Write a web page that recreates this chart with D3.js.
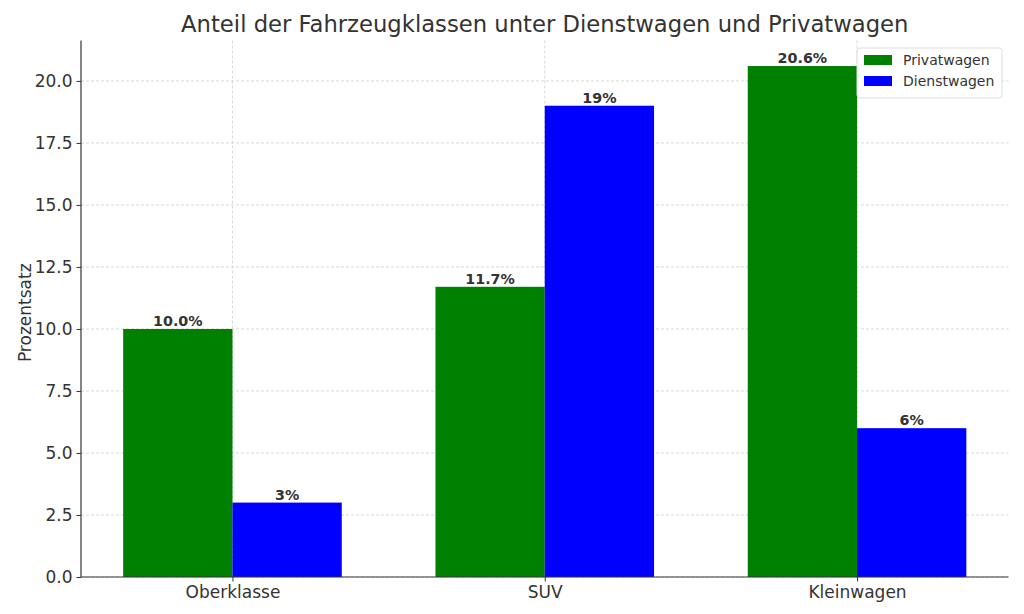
<!DOCTYPE html>
<html><head><meta charset="utf-8">
<script src="https://cdn.jsdelivr.net/npm/d3@7"></script>
<style>body{margin:0;background:#fff;}svg{display:block;font-family:"DejaVu Sans",sans-serif;}</style>
</head><body>
<svg id="c" width="1024" height="614"></svg>
<script>
const categories = ["Oberklasse", "SUV", "Kleinwagen"];
const privatwagen = [10.0, 11.7, 20.6];
const dienstwagen = [3, 19, 6];
const privatLabels = ["10.0%", "11.7%", "20.6%"];
const dienstLabels = ["3%", "19%", "6%"];
const yTicks = [0, 2.5, 5, 7.5, 10, 12.5, 15, 17.5, 20];
const seriesNames = ["Privatwagen", "Dienstwagen"];
const colors = ["#008000", "#0000ff"];

const svg = d3.select("#c");
const L = 81, R = 1008.5, T = 40.5, B = 577;
const bw = 0.35;
const x = d3.scaleLinear().domain([-0.485, 2.485]).range([L, R]);
const y = d3.scaleLinear().domain([0, 21.63]).range([B, T]);
const textCol = "#333";

// grid
const g = svg.append("g");
g.selectAll("line.h").data(yTicks).join("line")
  .attr("x1", L).attr("x2", R).attr("y1", d => y(d)).attr("y2", d => y(d))
  .attr("stroke", "#cfcfcf").attr("stroke-width", 0.8).attr("stroke-dasharray", "3,2");
g.selectAll("line.v").data(categories).join("line")
  .attr("x1", (d,i) => x(i)).attr("x2", (d,i) => x(i)).attr("y1", T).attr("y2", B)
  .attr("stroke", "#cfcfcf").attr("stroke-width", 0.8).attr("stroke-dasharray", "3,2");

const series = [privatwagen, dienstwagen];
const labels = [privatLabels, dienstLabels];
series.forEach((vals, s) => {
  const off = s === 0 ? -bw : 0;
  svg.append("g").selectAll("rect").data(vals).join("rect")
    .attr("x", (d,i) => x(i + off)).attr("width", x(bw) - x(0))
    .attr("y", d => y(d)).attr("height", d => y(0) - y(d))
    .attr("fill", colors[s]);
  svg.append("g").selectAll("text").data(vals).join("text")
    .attr("x", (d,i) => x(i + off + bw/2)).attr("y", d => y(d) - 3)
    .attr("text-anchor", "middle").attr("font-size", 14.3).attr("font-weight", "bold")
    .attr("fill", textCol).text((d,i) => labels[s][i]);
});

// axes
const ya = svg.append("g").attr("transform", `translate(${L},0)`)
  .call(d3.axisLeft(y).tickValues(yTicks).tickFormat(d3.format(".1f")).tickSize(4.5).tickPadding(4));
const xa = svg.append("g").attr("transform", `translate(0,${B})`)
  .call(d3.axisBottom(x).tickValues([0,1,2]).tickFormat(i => categories[i]).tickSize(4.5).tickPadding(4));
[ya, xa].forEach(a => {
  a.select(".domain").attr("stroke", "#333").attr("stroke-width", 1.2);
  a.selectAll(".tick line").attr("stroke", "#333").attr("stroke-width", 1);
  a.selectAll(".tick text").attr("font-size", 17).attr("fill", textCol).attr("font-family", "DejaVu Sans");
});
ya.select(".domain").attr("d", `M0,${B}V${T}`);
xa.select(".domain").attr("d", `M${L},0H${R}`);

svg.append("text").attr("transform", `translate(31,${(T+B)/2 + 4}) rotate(-90)`)
  .attr("text-anchor", "middle").attr("font-size", 17).attr("fill", textCol).text("Prozentsatz");
svg.append("text").attr("x", (L+R)/2).attr("y", 32).attr("text-anchor", "middle")
  .attr("font-size", 22.7).attr("fill", textCol).text("Anteil der Fahrzeugklassen unter Dienstwagen und Privatwagen");

// legend
const lg = svg.append("g").attr("transform", "translate(857,48)");
lg.append("rect").attr("x", 0).attr("y", 0).attr("width", 145).attr("height", 50).attr("rx", 3)
  .attr("fill", "#fff").attr("fill-opacity", 0.8).attr("stroke", "#ddd");
seriesNames.forEach((n, i) => {
  lg.append("rect").attr("x", 7).attr("y", 7 + i*21).attr("width", 28).attr("height", 10).attr("fill", colors[i]);
  lg.append("text").attr("x", 46).attr("y", 17 + i*21).attr("font-size", 14).attr("fill", textCol).text(n);
});
</script>
</body></html>
